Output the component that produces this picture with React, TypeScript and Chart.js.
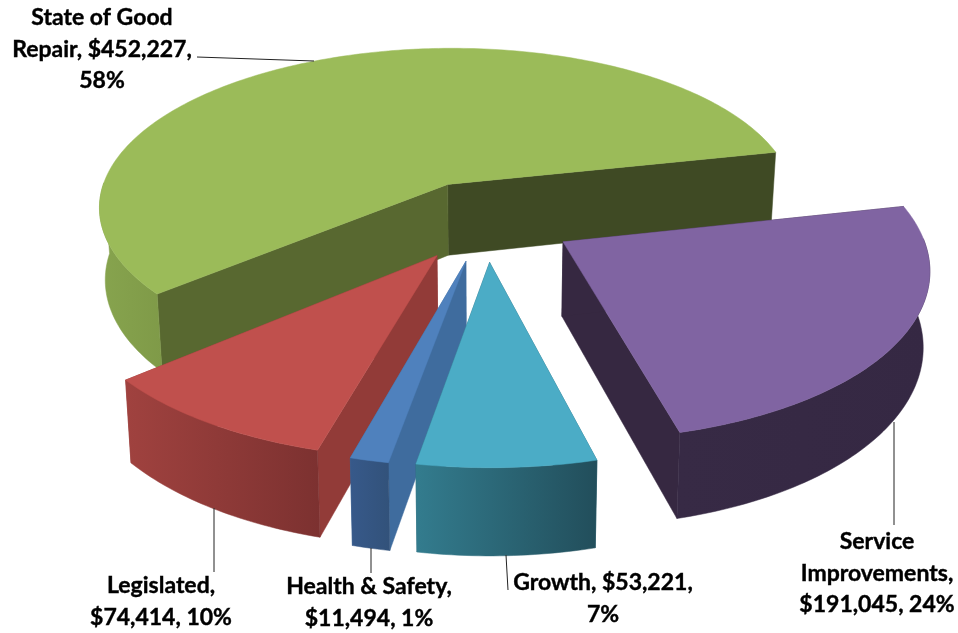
import React, { useEffect, useRef } from "react";
import Chart from "chart.js/auto";

const categories = ["Health & Safety", "Legislated", "State of Good Repair", "Service Improvements", "Growth"];
const values = [11494, 74414, 452227, 191045, 53221];
const wordsPerLine = [
  [3, 2],
  [1, 2],
  [3, 2, 1],
  [1, 1, 2],
  [2, 1],
];

const topColors = ["#4F81BD", "#C0504D", "#9BBB59", "#8064A2", "#4BACC6"];
const wallColors = [
  { start: "#3F6C9E", end: "#3F6C9E", outer: ["#37598A", "#32527A"] },
  { start: "#923B38", end: "#923B38", outer: ["#A0423F", "#7C3130"] },
  { start: "#586830", end: "#3F4A24", outer: ["#87A44E", "#7F9A48"] },
  { start: "#362841", end: "#362841", outer: ["#372A45", "#352843"] },
  { start: "#2A6373", end: "#2A6373", outer: ["#337C8E", "#224E5B"] },
];
const drawOrder = [2, 1, 0, 3, 4];

const view = { cx: 486, cy: 220, a: 355, b: 164, k: 0.138, depth: 73, bottomX: 0.985 };

const labelSpots = [
  { x: 369, y: 594 },
  { x: 161, y: 593 },
  { x: 102, y: 25 },
  { x: 877, y: 549 },
  { x: 603, y: 590 },
];
const leaderLines = [
  [371, 548, 371, 573],
  [214, 508, 214, 572],
  [197, 57, 314, 61],
  [894, 422, 894, 525],
  [506, 555, 508, 590],
];
const lineHeight = 31.5;

function project(u: number, v: number, low: boolean) {
  const p = 1 / (1 - view.k * v);
  const x = view.a * u * p;
  const y = view.b * v * p + (low ? view.depth * p : 0);
  return { x: view.cx + x * (low ? view.bottomX : 1), y: view.cy + y };
}

function poly(ctx: CanvasRenderingContext2D, pts: { x: number; y: number }[], fill: string | CanvasGradient) {
  ctx.beginPath();
  pts.forEach((p, i) => (i ? ctx.lineTo(p.x, p.y) : ctx.moveTo(p.x, p.y)));
  ctx.closePath();
  ctx.fillStyle = fill;
  ctx.strokeStyle = fill;
  ctx.lineWidth = 0.5;
  ctx.fill();
  ctx.stroke();
}

const pie3d = {
  id: "pie3d",
  beforeDatasetDraw(chart: any) {
    const ctx: CanvasRenderingContext2D = chart.ctx;
    const arcs = chart.getDatasetMeta(0).data;
    ctx.save();
    for (const i of drawOrder) {
      const arc = arcs[i];
      const a0 = arc.startAngle;
      const a1 = arc.endAngle;
      const mid = (a0 + a1) / 2;
      const e = (arc.options.offset / 4) / arc.outerRadius;
      const ou = Math.cos(mid) * e;
      const ov = Math.sin(mid) * e;
      const steps = Math.max(4, Math.ceil((a1 - a0) * 60));
      const rim: [number, number][] = [];
      for (let s = 0; s <= steps; s++) {
        const t = a0 + ((a1 - a0) * s) / steps;
        rim.push([ou + Math.cos(t), ov + Math.sin(t)]);
      }
      const first = rim[0];
      const last = rim[rim.length - 1];
      const w = wallColors[i];
      const wall = (p: [number, number], color: string) =>
        poly(ctx, [project(ou, ov, false), project(p[0], p[1], false), project(p[0], p[1], true), project(ou, ov, true)], color);
      wall(last, w.end);
      wall(first, w.start);

      const front = rim.filter((_, s) => Math.sin(a0 + ((a1 - a0) * s) / steps) > -0.02);
      if (front.length > 1) {
        const tops = front.map((p) => project(p[0], p[1], false));
        const bots = front.map((p) => project(p[0], p[1], true));
        const xs = tops.concat(bots).map((p) => p.x);
        const g = ctx.createLinearGradient(Math.min(...xs), 0, Math.max(...xs), 0);
        g.addColorStop(0, w.outer[0]);
        g.addColorStop(1, w.outer[1]);
        poly(ctx, tops.concat(bots.reverse()), g);
      }
      poly(ctx, [project(ou, ov, false), ...rim.map((p) => project(p[0], p[1], false))], topColors[i]);
    }
    ctx.restore();
    return false;
  },
  afterDatasetsDraw(chart: any) {
    const ctx: CanvasRenderingContext2D = chart.ctx;
    const total = values.reduce((s, v) => s + v, 0);
    ctx.save();
    ctx.strokeStyle = "#222222";
    ctx.lineWidth = 1;
    leaderLines.forEach((l) => {
      ctx.beginPath();
      ctx.moveTo(l[0], l[1]);
      ctx.lineTo(l[2], l[3]);
      ctx.stroke();
    });
    ctx.fillStyle = "#000000";
    ctx.strokeStyle = "#000000";
    ctx.lineWidth = 0.4;
    ctx.textAlign = "center";
    ctx.textBaseline = "alphabetic";
    ctx.font = 'bold 23px Lato, "Open Sans", sans-serif';
    categories.forEach((c, i) => {
      const text = `${c}, $${values[i].toLocaleString("en-US")}, ${Math.round((values[i] / total) * 100)}%`;
      const words = text.split(" ");
      let at = 0;
      wordsPerLine[i].forEach((n, j) => {
        const line = words.slice(at, at + n).join(" ");
        ctx.fillText(line, labelSpots[i].x, labelSpots[i].y + j * lineHeight);
        ctx.strokeText(line, labelSpots[i].x, labelSpots[i].y + j * lineHeight);
        at += n;
      });
    });
    ctx.restore();
  },
};

export default function App() {
  const ref = useRef<HTMLCanvasElement>(null);
  useEffect(() => {
    const chart = new Chart(ref.current as HTMLCanvasElement, {
      type: "pie",
      data: {
        labels: categories,
        datasets: [{ data: values, backgroundColor: topColors, borderWidth: 0, offset: 211 }],
      },
      options: {
        animation: false,
        responsive: false,
        rotation: 190,
        layout: { padding: 0 },
        plugins: { legend: { display: false }, tooltip: { enabled: false } },
      },
      plugins: [pie3d],
    } as any);
    return () => chart.destroy();
  }, []);
  return (
    <div style={{ position: "fixed", left: 0, top: 0, width: 958, height: 633, background: "#ffffff" }}>
      <canvas ref={ref} width={958} height={633} style={{ display: "block" }} />
    </div>
  );
}
